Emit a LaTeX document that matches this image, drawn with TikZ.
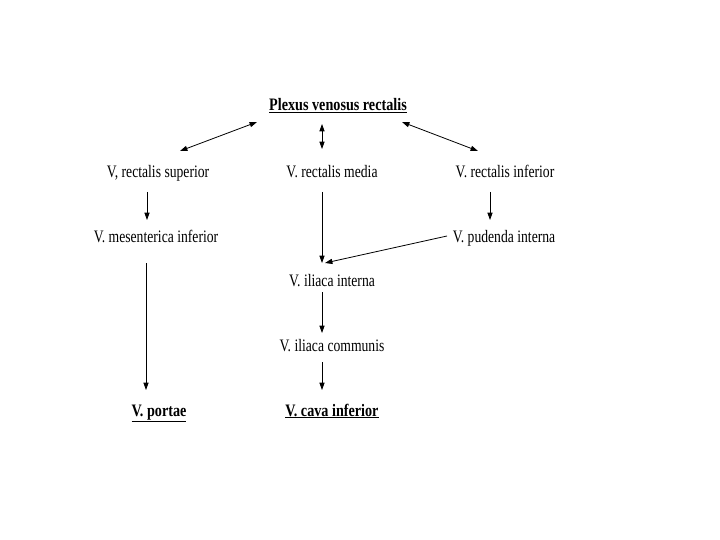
\documentclass[tikz,border=0pt]{standalone}
\usepackage{fontspec}
\setmainfont{Liberation Serif}[FakeStretch=0.78,BoldFeatures={FakeStretch=0.81}]
\usetikzlibrary{arrows.meta}
\tikzset{
  vein diagram label/.style={
    inner sep=1pt,
    text height=16pt,
    text depth=2pt,
    font=\fontsize{17.5}{19}\selectfont
  },
  vein diagram main/.style={
    vein diagram label,
    font=\fontsize{17.5}{19}\selectfont\bfseries
  },
  vein diagram flow/.style={
    -{Triangle[length=2.6mm,width=1.8mm]},
    line width=0.8pt
  },
  vein diagram both/.style={
    {Triangle[length=2.6mm,width=1.8mm]}-{Triangle[length=2.6mm,width=1.8mm]},
    line width=0.8pt
  }
}
\newcommand{\veinMain}[3]{%
  \node[vein diagram main] (#1) at #2 {\underline{#3}};%
}
\newcommand{\veinLabel}[3]{%
  \node[vein diagram label] (#1) at #2 {#3};%
}

\begin{document}
\begin{tikzpicture}[x=1pt,y=-1pt]
  \useasboundingbox (0,0) rectangle (720,540);

  \veinMain{plexus}{(338,104)}{Plexus venosus rectalis}

  \veinLabel{superior}{(158,171)}{V, rectalis superior}
  \veinLabel{media}{(332,171)}{V. rectalis media}
  \veinLabel{inferior}{(505,171)}{V. rectalis inferior}

  \veinLabel{mesenterica}{(156,235)}{V. mesenterica inferior}
  \veinLabel{pudenda}{(504,235)}{V. pudenda interna}

  \veinLabel{iliacaInt}{(332,279)}{V. iliaca interna}
  \veinLabel{iliacaCom}{(332,344)}{V. iliaca communis}

  \veinMain{portae}{(159,409)}{V. portae}
  \veinMain{cava}{(332,409)}{V. cava inferior}

  % plexus to the three rectal veins
  \draw[vein diagram both] ([shift={(-81,18)}]plexus.center)
    -- ([shift={(22,-20)}]superior.center);
  \draw[vein diagram both] ([shift={(-16,20)}]plexus.center)
    -- ([shift={(-10,-22)}]media.center);
  \draw[vein diagram both] ([shift={(64,18)}]plexus.center)
    -- ([shift={(-27,-20)}]inferior.center);

  % drainage
  \draw[vein diagram flow] ([shift={(-11,21)}]superior.center)
    -- ([shift={(-9,-15)}]mesenterica.center);
  \draw[vein diagram flow] ([shift={(-15,21)}]inferior.center)
    -- ([shift={(-14,-15)}]pudenda.center);
  \draw[vein diagram flow] ([shift={(-10,21)}]media.center)
    -- ([shift={(-10,-16)}]iliacaInt.center);
  \draw[vein diagram flow] ([shift={(-57,1)}]pudenda.center)
    -- ([shift={(-7,-16)}]iliacaInt.center);
  \draw[vein diagram flow] ([shift={(-10,28)}]mesenterica.center)
    -- ([shift={(-13,-19)}]portae.center);
  \draw[vein diagram flow] ([shift={(-10,13)}]iliacaInt.center)
    -- ([shift={(-10,-11)}]iliacaCom.center);
  \draw[vein diagram flow] ([shift={(-10,18)}]iliacaCom.center)
    -- ([shift={(-10,-19)}]cava.center);
\end{tikzpicture}
\end{document}
